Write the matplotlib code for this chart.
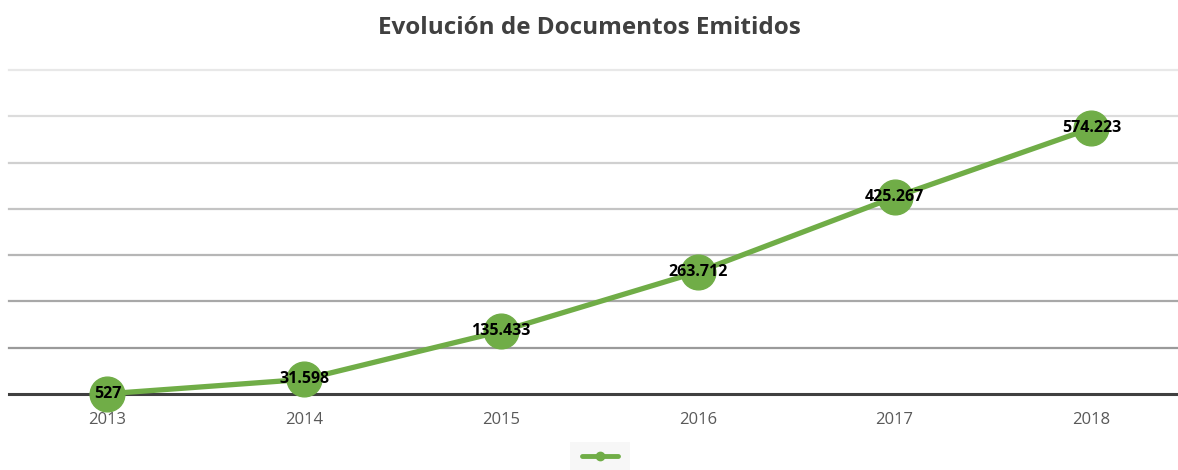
import matplotlib.pyplot as plt
import numpy as np

years = ['2013', '2014', '2015', '2016', '2017', '2018']
documentos = [527, 31598, 135433, 263712, 425267, 574223]
etiquetas = ['527', '31.598', '135.433', '263.712', '425.267', '574.223']
grid_values = [100000, 200000, 300000, 400000, 500000, 600000, 700000]
grid_colors = ['#9a9a9a', '#a8a8a8', '#b6b6b6', '#c4c4c4', '#d0d0d0', '#dcdcdc', '#e8e8e8']

GREEN = '#70ad47'

plt.rcParams['font.family'] = ['Open Sans', 'DejaVu Sans']

fig = plt.figure(figsize=(11.78, 4.70), dpi=100)
ax = fig.add_axes([9 / 1178, 1 - 394 / 470, 1 - 9 / 1178, (394 - 70) / 470])

x = np.arange(len(years))

for v, c in zip(grid_values, grid_colors):
    ax.axhline(v, color=c, lw=1.6, zorder=0, clip_on=False)
ax.axhline(0, color='#404040', lw=2.2, zorder=1, clip_on=False)

ax.plot(x, documentos, color=GREEN, lw=3.8, marker='o', markersize=25,
        markerfacecolor=GREEN, markeredgecolor=GREEN, zorder=3,
        solid_capstyle='round', clip_on=False)

for xi, yi, t in zip(x, documentos, etiquetas):
    ax.text(xi, yi, t, ha='center', va='center', fontsize=11.5, fontweight='bold',
            color='black', zorder=4)

ax.set_xlim(-0.5, 5.44)
ax.set_ylim(0, 700000)
ax.set_xticks(x)
ax.set_xticklabels(years, fontsize=12, color='#595959')
ax.set_yticks([])
ax.tick_params(axis='x', length=0, pad=13)
for s in ax.spines.values():
    s.set_visible(False)

fig.text(0.5, 1 - 28 / 470, 'Evolución de Documentos Emitidos', ha='center', va='center',
         fontsize=17.5, fontweight='bold', color='#404040')

# legend handle without label
lax = fig.add_axes([570 / 1178, 0, 60 / 1178, 28 / 470])
lax.set_facecolor('#f7f7f7')
lax.plot([0.2, 0.8], [0.5, 0.5], color=GREEN, lw=3.5, solid_capstyle='round')
lax.plot([0.5], [0.5], 'o', color=GREEN, markersize=6)
lax.set_xlim(0, 1)
lax.set_ylim(0, 1)
lax.set_xticks([])
lax.set_yticks([])
for s in lax.spines.values():
    s.set_visible(False)

fig.savefig('out.png', dpi=100)
